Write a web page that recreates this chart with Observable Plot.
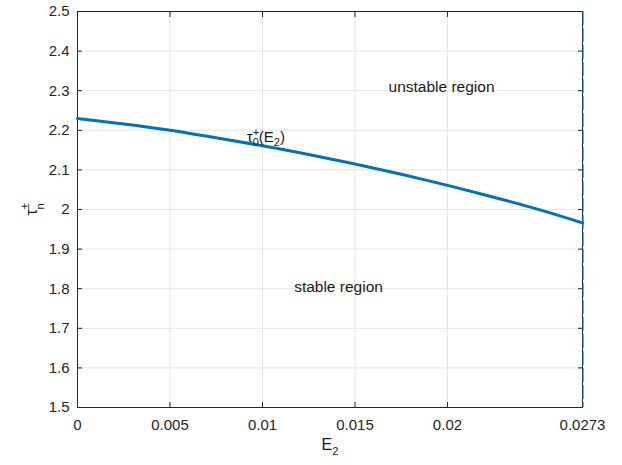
<!DOCTYPE html>
<html>
<head>
<meta charset="utf-8">
<script src="https://cdn.jsdelivr.net/npm/d3@7"></script>
<script src="https://cdn.jsdelivr.net/npm/@observablehq/plot@0.6"></script>
<style>
  html, body { margin: 0; padding: 0; background: #fff; }
  #chart svg { display: block; }
</style>
</head>
<body>
<div id="chart"></div>
<script>
// Critical delay branch tau_0^+(E2) against the coupling strength E2
const e2 = [0, 0.0025, 0.005, 0.0075, 0.01, 0.0125, 0.015, 0.0175, 0.02, 0.0225, 0.025, 0.0273];
const tau = [2.230, 2.216, 2.200, 2.181, 2.161, 2.139, 2.115, 2.089, 2.061, 2.031, 1.999, 1.966];

const E2max = 0.0273;
const xTicks = [0, 0.005, 0.01, 0.015, 0.02, 0.0273];
const xTickLabels = ["0", "0.005", "0.01", "0.015", "0.02", "0.0273"];
const yTicks = [1.5, 1.6, 1.7, 1.8, 1.9, 2.0, 2.1, 2.2, 2.3, 2.4, 2.5];
const yTickLabels = ["1.5", "1.6", "1.7", "1.8", "1.9", "2", "2.1", "2.2", "2.3", "2.4", "2.5"];

const regionNames = ["unstable region", "stable region"];
const regionX = [0.01968, 0.01411];
const regionY = [2.31, 1.805];

const curveLabelX = 0.00915;
const curveLabelY = 2.183;

const curve = e2.map((x, i) => ({x, y: tau[i]}));
const regions = regionNames.map((text, i) => ({text, x: regionX[i], y: regionY[i]}));

// placeholder keys for the labels that get sub/superscripts afterwards
const CURVE_KEY = "τ-curve";
const XTITLE_KEY = "E-title";
const YTITLE_KEY = "τ-title";

const axisColor = "#262626";
const gridColor = "#e4e4e4";
const lineColor = "#0072BD";
const font = "'Liberation Sans', Arial, Helvetica, sans-serif";

const chart = Plot.plot({
  width: 622,
  height: 465,
  marginLeft: 77,
  marginRight: 40,
  marginTop: 11,
  marginBottom: 58,
  style: {fontFamily: font, fontSize: "15px", color: axisColor, background: "#fff"},
  x: {domain: [0, E2max]},
  y: {domain: [1.5, 2.5]},
  marks: [
    Plot.gridX(xTicks, {stroke: gridColor, strokeOpacity: 1}),
    Plot.gridY(yTicks, {stroke: gridColor, strokeOpacity: 1}),
    // inward tick marks on all four sides
    Plot.axisX(xTicks, {anchor: "bottom", tickSize: -5, text: null, label: null, stroke: axisColor}),
    Plot.axisX(xTicks, {anchor: "top", tickSize: -5, text: null, label: null, stroke: axisColor}),
    Plot.axisY(yTicks, {anchor: "left", tickSize: -5, text: null, label: null, stroke: axisColor}),
    Plot.axisY(yTicks, {anchor: "right", tickSize: -5, text: null, label: null, stroke: axisColor}),
    // tick labels
    Plot.axisX(xTicks, {anchor: "bottom", tickSize: 0, tickPadding: 12, label: null,
      tickFormat: (d) => xTickLabels[xTicks.indexOf(d)], fill: axisColor}),
    Plot.axisY(yTicks, {anchor: "left", tickSize: 0, tickPadding: 8, label: null,
      tickFormat: (d) => yTickLabels[yTicks.indexOf(d)], fill: axisColor}),
    Plot.frame({stroke: axisColor, strokeWidth: 1}),
    // boundary of the admissible E2 range
    Plot.ruleX([E2max], {stroke: lineColor, strokeWidth: 1.2, dx: 0.5, strokeDasharray: "14,3"}),
    Plot.line(curve, {x: "x", y: "y", stroke: lineColor, strokeWidth: 3, curve: "natural"}),
    Plot.text(regions, {x: "x", y: "y", text: "text", fill: "#1a1a1a", fontSize: 15.5}),
    Plot.text([{x: curveLabelX, y: curveLabelY}], {x: "x", y: "y", text: () => CURVE_KEY,
      textAnchor: "start", fill: "#1a1a1a", fontSize: 15}),
    // axis titles
    Plot.text([XTITLE_KEY], {frameAnchor: "bottom", dy: 42, text: (d) => d, fill: "#1a1a1a", fontSize: 16}),
    Plot.text([YTITLE_KEY], {frameAnchor: "left", dx: -46, rotate: -90, text: (d) => d,
      fill: "#1a1a1a", fontSize: 16})
  ]
});

document.getElementById("chart").appendChild(chart);

// rich text with sub/superscripts
function richText(key, parts) {
  d3.select(chart).selectAll("text")
    .filter(function () { return this.textContent === key; })
    .each(function () {
      const t = d3.select(this);
      t.text(null);
      for (const p of parts) {
        const s = t.append("tspan").text(p.text);
        if (p.size) s.attr("font-size", p.size);
        if (p.dx) s.attr("dx", p.dx);
        if (p.dy) s.attr("dy", p.dy);
      }
    });
}

richText(CURVE_KEY, [
  {text: "τ"},
  {text: "+", size: 11, dy: -6},
  {text: "0", size: 11, dx: -6.4, dy: 10},
  {text: "(E", size: 15, dy: -4},
  {text: "2", size: 11, dy: 4},
  {text: ")", size: 15, dy: -4}
]);

richText(XTITLE_KEY, [
  {text: "E"},
  {text: "2", size: 11, dy: 5}
]);

richText(YTITLE_KEY, [
  {text: "τ", dx: -6},
  {text: "±", size: 11, dy: -8},
  {text: "n", size: 11, dx: -6.4, dy: 15}
]);
</script>
</body>
</html>
